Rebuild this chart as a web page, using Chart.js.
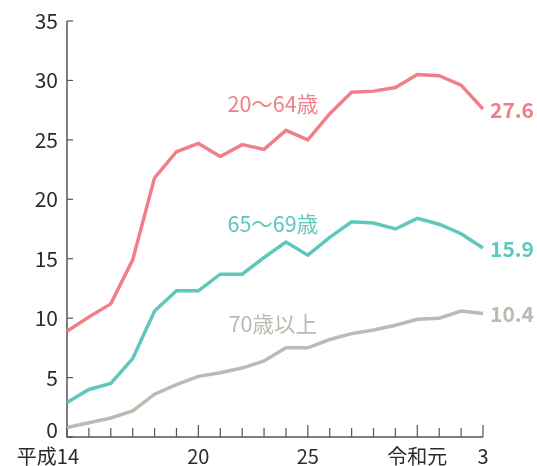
<!DOCTYPE html>
<html>
<head>
<meta charset="utf-8">
<script src="https://cdn.jsdelivr.net/npm/chart.js@4/dist/chart.umd.min.js"></script>
<style>
  html, body { margin: 0; padding: 0; background: #fff; }
  #wrap { width: 537px; height: 466px; }
</style>
</head>
<body>
<div id="wrap"><canvas id="chart"></canvas></div>
<script>
// years H14 .. R3 (one point per year)
const years = ["H14","H15","H16","H17","H18","H19","H20","H21","H22","H23","H24","H25","H26","H27","H28","H29","H30","R1","R2","R3"];
// axis labels shown under the x axis (index -> text)
const xLabelIdx = [0, 6, 11, 16, 19];
const xLabelText = ["平成14", "20", "25", "令和元", "3"];
const yTicks = [0, 5, 10, 15, 20, 25, 30, 35];

const age20to64 = [8.9, 10.1, 11.2, 14.9, 21.8, 24.0, 24.7, 23.6, 24.6, 24.2, 25.8, 25.0, 27.2, 29.0, 29.1, 29.4, 30.5, 30.4, 29.6, 27.6];
const age65to69 = [2.9, 4.0, 4.5, 6.6, 10.6, 12.3, 12.3, 13.7, 13.7, 15.1, 16.4, 15.3, 16.8, 18.1, 18.0, 17.5, 18.4, 17.9, 17.1, 15.9];
const age70plus = [0.8, 1.2, 1.6, 2.2, 3.6, 4.4, 5.1, 5.4, 5.8, 6.4, 7.5, 7.5, 8.2, 8.7, 9.0, 9.4, 9.9, 10.0, 10.6, 10.4];

const seriesNames = ["20～64歳", "65～69歳", "70歳以上"];
const endLabels = ["27.6", "15.9", "10.4"];
const colors = ["#f07f88", "#5fc7bc", "#b9bcb0"];
// name label anchor in data coordinates (category index, value)
const namePos = [[9.4, 28.0], [9.4, 17.95], [9.4, 9.55]];

const FONT = '"Noto Sans CJK JP", "Noto Sans", sans-serif';
const AXIS = "#555";
const TEXT = "#2b2b2b";

const decor = {
  id: "decor",
  beforeDatasetsDraw(chart) {
    const { ctx, chartArea: a, scales: { x, y } } = chart;
    ctx.save();
    ctx.strokeStyle = AXIS;
    ctx.lineWidth = 1.5;
    ctx.beginPath();
    ctx.moveTo(a.left, a.top);
    ctx.lineTo(a.left, a.bottom);
    ctx.lineTo(a.right, a.bottom);
    ctx.stroke();

    // y ticks, pointing inward
    ctx.lineWidth = 1.2;
    yTicks.forEach(v => {
      const py = y.getPixelForValue(v);
      ctx.beginPath();
      ctx.moveTo(a.left, py);
      ctx.lineTo(a.left + 6, py);
      ctx.stroke();
    });
    // x ticks, longer at labelled years
    years.forEach((_, i) => {
      const px = x.getPixelForValue(i);
      const len = xLabelIdx.includes(i) ? 12 : 9;
      ctx.beginPath();
      ctx.moveTo(px, a.bottom);
      ctx.lineTo(px, a.bottom - len);
      ctx.stroke();
    });

    ctx.fillStyle = TEXT;
    ctx.font = "21px " + FONT;
    ctx.textAlign = "right";
    ctx.textBaseline = "middle";
    yTicks.forEach(v => {
      let py = y.getPixelForValue(v);
      if (v === 0) py -= 7;
      ctx.fillText(String(v), a.left - 9, py);
    });

    ctx.font = "20px " + FONT;
    ctx.textAlign = "center";
    xLabelIdx.forEach((idx, k) => {
      const px = x.getPixelForValue(idx);
      if (k === 0) {
        ctx.textAlign = "right";
        ctx.fillText(xLabelText[k], px + 12, a.bottom + 19);
        ctx.textAlign = "center";
      } else {
        ctx.fillText(xLabelText[k], px, a.bottom + 19);
      }
    });
    ctx.restore();
  },
  afterDatasetsDraw(chart) {
    const { ctx, scales: { x, y } } = chart;
    ctx.save();
    ctx.textBaseline = "middle";
    chart.data.datasets.forEach((ds, i) => {
      ctx.fillStyle = colors[i];
      ctx.font = "21.5px " + FONT;
      ctx.textAlign = "center";
      ctx.fillText(seriesNames[i], x.getPixelForValue(namePos[i][0]), y.getPixelForValue(namePos[i][1]));
      const last = ds.data.length - 1;
      ctx.font = "bold 21px " + FONT;
      ctx.textAlign = "left";
      ctx.fillText(endLabels[i], x.getPixelForValue(last) + 7, y.getPixelForValue(ds.data[last]) + 1);
    });
    ctx.restore();
  }
};

new Chart(document.getElementById("chart"), {
  type: "line",
  data: {
    labels: years,
    datasets: [
      { label: seriesNames[0], data: age20to64, borderColor: colors[0] },
      { label: seriesNames[1], data: age65to69, borderColor: colors[1] },
      { label: seriesNames[2], data: age70plus, borderColor: colors[2] }
    ].map(d => Object.assign(d, { borderWidth: 3.5, pointRadius: 0, tension: 0, fill: false }))
  },
  options: {
    responsive: true,
    maintainAspectRatio: false,
    animation: false,
    layout: { padding: { left: 67, right: 54, top: 21, bottom: 29 } },
    plugins: { legend: { display: false }, tooltip: { enabled: false } },
    scales: {
      x: { display: false, offset: false },
      y: { display: false, min: 0, max: 35 }
    }
  },
  plugins: [decor]
});
</script>
</body>
</html>
